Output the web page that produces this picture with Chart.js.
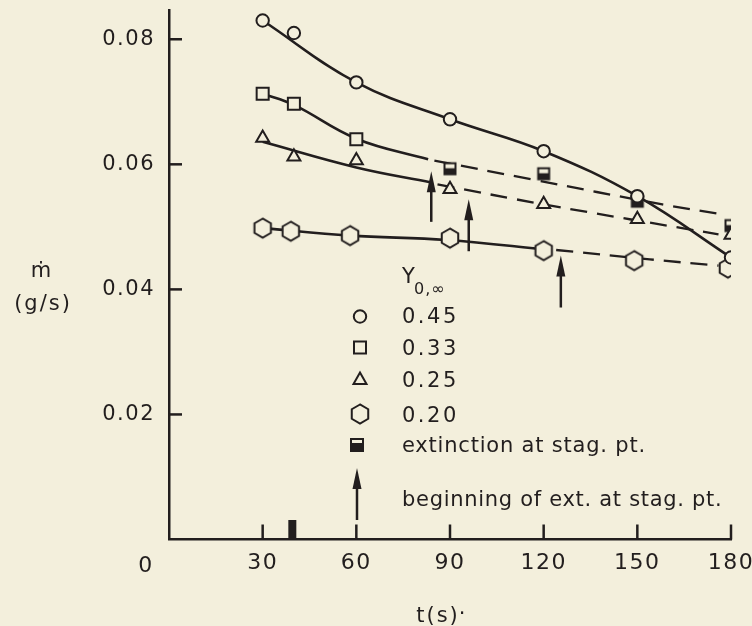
<!DOCTYPE html>
<html>
<head>
<meta charset="utf-8">
<script src="https://cdn.jsdelivr.net/npm/chart.js@4.4.1/dist/chart.umd.min.js"></script>
<style>
html, body { margin: 0; padding: 0; background: #f3efdc; }
canvas { display: block; }
</style>
</head>
<body>
<canvas id="massLoss" width="752" height="626"></canvas>
<script>
// axis ticks
const xTicks = [30, 60, 90, 120, 150, 180];
const yTicks = [0.02, 0.04, 0.06, 0.08];

// measured points, Y_O,inf = 0.45
const circT = [30, 40, 60, 90, 120, 150, 180];
const circM = [0.0830, 0.0810, 0.0731, 0.0672, 0.0621, 0.0549, 0.0451];
// Y = 0.33 before extinction
const sqT = [30, 40, 60];
const sqM = [0.0713, 0.0697, 0.0640];
// Y = 0.33, extinction at stag. pt.
const extT = [90, 120, 150, 180];
const extM = [0.0593, 0.0585, 0.0541, 0.0502];
// Y = 0.25
const triT = [30, 40, 60, 90, 120, 150, 180];
const triM = [0.0642, 0.0612, 0.0606, 0.0560, 0.0536, 0.0512, 0.0487];
// Y = 0.20
const hexT = [30, 39, 58, 90, 120, 149, 179];
const hexM = [0.0498, 0.0493, 0.0486, 0.0482, 0.0462, 0.0446, 0.0434];

// hand-drawn fit curves
const circFitT = [30, 60, 90, 120, 150, 180];
const circFitM = [0.0830, 0.0731, 0.0672, 0.0621, 0.0549, 0.0451];
const sqFitT = [30, 40, 60, 83];
const sqFitM = [0.0713, 0.0695, 0.0641, 0.0608];
const sqDashT = [85, 116, 158, 176];
const sqDashM = [0.0606, 0.0576, 0.0536, 0.0521];
const triFitT = [30, 60, 84];
const triFitM = [0.0636, 0.0595, 0.0571];
const triDashT = [86, 120, 176];
const triDashM = [0.0568, 0.0536, 0.0488];
const hexFitT = [30, 58, 89, 122];
const hexFitM = [0.0498, 0.0486, 0.0479, 0.0463];
const hexDashT = [124, 154, 176];
const hexDashM = [0.0463, 0.0448, 0.0438];

// beginning of extinction arrows
const arrowT = [84, 96, 125.5];
const arrowTip = [0.0589, 0.0544, 0.0454];
const arrowBase = [0.0508, 0.0461, 0.0371];

// small dark mark on the time axis
const stubT = [39.5, 39.5];
const stubM = [0, 0.0031];

const ink = '#221e1e';
const paper = '#f3efdc';
const font = 'DejaVu Sans';

const pts = (t, m) => t.map((v, i) => ({x: v, y: m[i]}));

function hexPath(g, x, y, r) {
  g.beginPath();
  for (let i = 0; i < 6; i++) {
    const a = Math.PI / 2 + i * Math.PI / 3;
    g.lineTo(x + r * Math.cos(a), y - r * Math.sin(a));
  }
  g.closePath();
}
function drawHex(g, x, y, r) {
  hexPath(g, x, y, r);
  g.fillStyle = paper; g.fill();
  g.lineWidth = 2; g.strokeStyle = ink; g.stroke();
}
function drawExt(g, x, y, s, hollow) {
  g.fillStyle = ink;
  g.fillRect(x - s / 2, y - s / 2, s, s);
  g.fillStyle = paper;
  g.fillRect(x - s / 2 + 2, y - s / 2 + 2, s - 4, hollow);
}
function symbol(size, fn) {
  const c = document.createElement('canvas');
  c.width = c.height = size;
  fn(c.getContext('2d'), size / 2, size / 2);
  return c;
}
const hexImg = symbol(24, (g, x, y) => drawHex(g, x, y, 9.5));
const extImg = symbol(16, (g, x, y) => drawExt(g, x, y, 13, 4));

const markers = {type: 'line', showLine: false, borderColor: ink, backgroundColor: paper,
  pointBorderWidth: 2, order: 0};
const curve = {type: 'line', borderColor: ink, borderWidth: 2.6, pointRadius: 0,
  tension: 0.4, order: 1};
const dashed = Object.assign({}, curve, {borderDash: [17, 10], borderWidth: 2.3});

function arrow(ctx, x, yTip, yBase) {
  ctx.strokeStyle = ink; ctx.fillStyle = ink;
  ctx.lineWidth = 2.5;
  ctx.beginPath(); ctx.moveTo(x, yBase); ctx.lineTo(x, yTip + 12); ctx.stroke();
  ctx.beginPath();
  ctx.moveTo(x, yTip); ctx.lineTo(x - 4.5, yTip + 21); ctx.lineTo(x + 4.5, yTip + 21);
  ctx.closePath(); ctx.fill();
}

function text(ctx, s, x, y, size, align, spacing) {
  ctx.font = size + 'px "' + font + '"';
  ctx.letterSpacing = (spacing || 0) + 'px';
  ctx.textAlign = align || 'left';
  ctx.textBaseline = 'alphabetic';
  ctx.fillStyle = ink;
  ctx.fillText(s, x, y);
}

const decor = {
  id: 'decor',
  beforeDraw(chart) { chart.ctx.letterSpacing = '1.5px'; },
  afterDraw(chart) {
    const {ctx, chartArea: {left, bottom}, scales: {x, y}} = chart;
    ctx.save();
    ctx.strokeStyle = ink; ctx.lineWidth = 2.5;
    // inward tick marks
    x.ticks.forEach(t => {
      const px = x.getPixelForValue(t.value);
      ctx.beginPath(); ctx.moveTo(px, bottom); ctx.lineTo(px, bottom - 15); ctx.stroke();
    });
    y.ticks.forEach(t => {
      const py = y.getPixelForValue(t.value);
      ctx.beginPath(); ctx.moveTo(left, py); ctx.lineTo(left + 13, py); ctx.stroke();
    });
    // arrows in the plot
    arrowT.forEach((t, i) => {
      arrow(ctx, x.getPixelForValue(t), y.getPixelForValue(arrowTip[i]), y.getPixelForValue(arrowBase[i]));
    });

    // axis texts
    text(ctx, '0', left - 23, 572, 22, 'center', 1.5);
    text(ctx, 't(s)', 438, 622, 21, 'center', 2);
    text(ctx, '·', 462, 620, 21, 'center', 0);
    text(ctx, 'ṁ', 41, 277, 21, 'center', 0);
    text(ctx, '(g/s)', 43, 310, 21, 'center', 2);

    // legend
    const sx = 360, tx = 402;
    text(ctx, 'Y', tx, 283, 21, 'left', 0);
    text(ctx, '0,∞', 414, 294, 16, 'left', 1);
    ctx.lineWidth = 2; ctx.strokeStyle = ink; ctx.fillStyle = paper;
    ctx.beginPath(); ctx.arc(sx, 316.5, 6.2, 0, Math.PI * 2); ctx.fill(); ctx.stroke();
    ctx.strokeRect(sx - 6, 341.5, 12, 12);
    ctx.beginPath(); ctx.moveTo(sx, 372.5); ctx.lineTo(sx + 6.5, 384); ctx.lineTo(sx - 6.5, 384);
    ctx.closePath(); ctx.stroke();
    drawHex(ctx, sx, 414, 9.5);
    drawExt(ctx, 357, 445, 14, 3);
    arrow(ctx, 357, 468, 520);
    text(ctx, '0.45', tx, 323, 21, 'left', 2.5);
    text(ctx, '0.33', tx, 355, 21, 'left', 2.5);
    text(ctx, '0.25', tx, 387, 21, 'left', 2.5);
    text(ctx, '0.20', tx, 422, 21, 'left', 2.5);
    text(ctx, 'extinction at stag. pt.', tx, 452, 21, 'left', 0.8);
    text(ctx, 'beginning of ext. at stag. pt.', tx, 506, 21, 'left', 0.7);
    ctx.restore();
    ctx.letterSpacing = '0px';
  }
};

new Chart(document.getElementById('massLoss'), {
  data: {
    datasets: [
      Object.assign({}, markers, {data: pts(circT, circM), pointStyle: 'circle', pointRadius: 6.2}),
      Object.assign({}, markers, {data: pts(sqT, sqM), pointStyle: 'rect', pointRadius: 8.5}),
      Object.assign({}, markers, {data: pts(triT, triM), pointStyle: 'triangle', pointRadius: 7.5}),
      Object.assign({}, markers, {data: pts(hexT, hexM), pointStyle: hexImg}),
      Object.assign({}, markers, {data: pts(extT, extM), pointStyle: extImg}),
      Object.assign({}, curve, {data: pts(circFitT, circFitM)}),
      Object.assign({}, curve, {data: pts(sqFitT, sqFitM)}),
      Object.assign({}, dashed, {data: pts(sqDashT, sqDashM)}),
      Object.assign({}, curve, {data: pts(triFitT, triFitM)}),
      Object.assign({}, dashed, {data: pts(triDashT, triDashM)}),
      Object.assign({}, curve, {data: pts(hexFitT, hexFitM)}),
      Object.assign({}, dashed, {data: pts(hexDashT, hexDashM)}),
      Object.assign({}, curve, {data: pts(stubT, stubM), borderWidth: 8, borderCapStyle: 'butt', tension: 0})
    ]
  },
  options: {
    responsive: false,
    animation: false,
    layout: {padding: {top: 9, right: 21, left: 0, bottom: 0}},
    plugins: {legend: {display: false}, tooltip: {enabled: false}},
    scales: {
      x: {
        type: 'linear', min: 0, max: 180,
        afterBuildTicks: s => { s.ticks = xTicks.map(v => ({value: v})); },
        afterFit: s => { s.height = 86.5; s.paddingLeft = 0; s.paddingRight = 0; },
        grid: {display: false, drawTicks: false},
        border: {color: ink, width: 2.5},
        ticks: {color: ink, padding: 11, font: {family: font, size: 22}, callback: v => String(v)}
      },
      y: {
        type: 'linear', min: 0, max: 0.0846,
        afterBuildTicks: s => { s.ticks = yTicks.map(v => ({value: v})); },
        afterFit: s => { s.width = 169; s.paddingTop = 0; s.paddingBottom = 0; },
        grid: {display: false, drawTicks: false},
        border: {color: ink, width: 2.5},
        ticks: {color: ink, padding: 14, font: {family: font, size: 21}, callback: v => v.toFixed(2)}
      }
    }
  },
  plugins: [decor]
});
</script>
</body>
</html>
